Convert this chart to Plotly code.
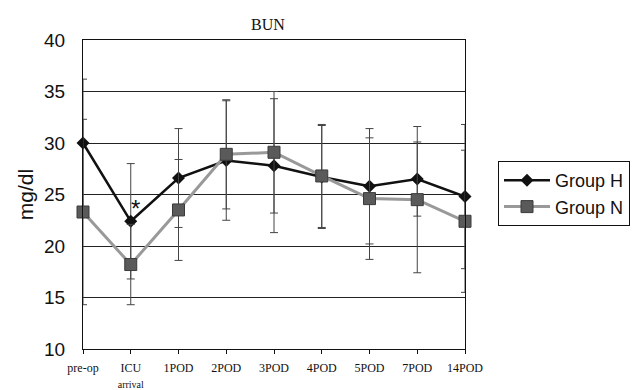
import plotly.graph_objects as go

categories = ["pre-op", "ICU<br><span style='font-size:10px'>arrival</span>", "1POD", "2POD", "3POD", "4POD", "5POD", "7POD", "14POD"]
group_h = [30.0, 22.4, 26.6, 28.3, 27.8, 26.7, 25.8, 26.5, 24.8]
group_h_sd = [6.2, 5.6, 4.8, 5.8, 6.5, 5.0, 5.6, 3.6, 7.0]
group_n = [23.3, 18.2, 23.5, 28.9, 29.1, 26.8, 24.6, 24.5, 22.4]
group_n_sd = [9.0, 3.9, 4.9, 5.3, 5.9, 5.0, 5.9, 7.1, 6.9]
y_ticks = [10, 15, 20, 25, 30, 35, 40]

xs = list(range(len(categories)))

fig = go.Figure()
fig.add_trace(go.Scatter(
    x=xs, y=group_h, name="Group H", mode="lines+markers",
    line=dict(color="#111111", width=2.5),
    marker=dict(symbol="diamond", size=10, color="#111111"),
    error_y=dict(type="data", array=group_h_sd, visible=True, color="#444444", thickness=1, width=4),
    cliponaxis=False,
))
fig.add_trace(go.Scatter(
    x=xs, y=group_n, name="Group N", mode="lines+markers",
    line=dict(color="#999999", width=3),
    marker=dict(symbol="square", size=12, color="#5a5a5a", line=dict(color="#3a3a3a", width=1)),
    error_y=dict(type="data", array=group_n_sd, visible=True, color="#444444", thickness=1, width=4),
    cliponaxis=False,
))

fig.add_annotation(x=1, y=group_h[1], text="*", showarrow=False, xshift=5, yshift=13,
                   font=dict(family="Liberation Sans", size=24, color="#111"))

fig.update_layout(
    width=633, height=390,
    margin=dict(l=83, r=168, t=40, b=41, autoexpand=False),
    paper_bgcolor="white", plot_bgcolor="white",
    title=dict(text="BUN", x=268 / 633, xref="container", xanchor="center",
               y=1 - 24 / 390, yref="container", yanchor="middle",
               font=dict(family="Liberation Serif", size=16, color="#111")),
    showlegend=True,
    legend=dict(x=(498 - 83) / 382, xanchor="left", y=(349 - 161) / 309, yanchor="top",
                bordercolor="#111", borderwidth=1, bgcolor="white",
                font=dict(family="Liberation Sans", size=18, color="#111"),
                tracegroupgap=0, itemwidth=46),
    xaxis=dict(
        range=[0, 8], tickvals=xs, ticktext=categories,
        showgrid=False, zeroline=False, automargin=False,
        showline=True, linecolor="#111", linewidth=1, mirror=True,
        ticks="outside", ticklen=4, tickcolor="#111",
        ticklabelstandoff=4,
        tickfont=dict(family="Liberation Serif", size=12, color="#111"),
    ),
    yaxis=dict(
        range=[10, 40], tickvals=y_ticks, ticks="",
        showgrid=True, gridcolor="#222", gridwidth=1, zeroline=False, automargin=False,
        showline=True, linecolor="#111", linewidth=1, mirror=True,
        tickfont=dict(family="Liberation Sans", size=19, color="#111"),
        ticklabelstandoff=13,
        title=dict(text="mg/dl", font=dict(family="Liberation Sans", size=21, color="#111"), standoff=4),
    ),
)

fig.write_html("out.html", config={"displayModeBar": False},
               post_script="document.body.style.margin='0';document.body.style.overflow='hidden';")
